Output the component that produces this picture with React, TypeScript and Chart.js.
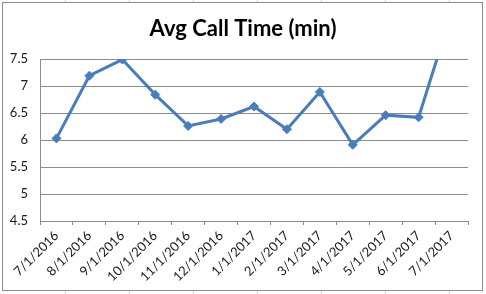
import React, { useEffect, useRef } from "react";
import { Chart, registerables } from "chart.js";

Chart.register(...registerables);

const categories: string[] = [
  "7/1/2016", "8/1/2016", "9/1/2016", "10/1/2016", "11/1/2016", "12/1/2016",
  "1/1/2017", "2/1/2017", "3/1/2017", "4/1/2017", "5/1/2017", "6/1/2017", "7/1/2017",
];
const avgCallTime: number[] = [6.03, 7.19, 7.49, 6.84, 6.26, 6.39, 6.62, 6.2, 6.89, 5.91, 6.46, 6.42, 8.36];
const yMin = 4.5;
const yMax = 7.5;
const yStep = 0.5;
const titleText = "Avg Call Time (min)";

const W = 486;
const H = 294;

const frame = {
  id: "frame",
  beforeDraw(chart: any) {
    const ctx = chart.ctx;
    ctx.save();
    ctx.fillStyle = "#ffffff";
    ctx.fillRect(0, 0, W, H);
    // spreadsheet cells peeking out around the chart object
    ctx.strokeStyle = "#d4d4d4";
    ctx.lineWidth = 1;
    for (let x = 65; x < W; x += 64) {
      ctx.beginPath();
      ctx.moveTo(x + 0.5, 0);
      ctx.lineTo(x + 0.5, H);
      ctx.stroke();
    }
    ctx.fillStyle = "#ffffff";
    ctx.fillRect(2, 2, 481, 289);
    ctx.strokeStyle = "#8c8c8c";
    ctx.strokeRect(2.5, 2.5, 480, 288);
    ctx.restore();
  },
};

export default function App() {
  const ref = useRef<HTMLCanvasElement | null>(null);
  useEffect(() => {
    document.body.style.margin = "0";
    if (!ref.current) return;
    const chart = new Chart(ref.current, {
      type: "line",
      data: {
        labels: categories,
        datasets: [
          {
            data: avgCallTime,
            borderColor: "#4A7EBB",
            backgroundColor: "#4A7EBB",
            borderWidth: 3,
            pointStyle: "rectRot",
            pointRadius: 4.5,
            pointBorderWidth: 1,
            pointBorderColor: "#4A7EBB",
            pointBackgroundColor: "#4A7EBB",
            tension: 0,
          },
        ],
      },
      options: {
        responsive: false,
        animation: false,
        devicePixelRatio: 1,
        layout: { padding: { left: 0, right: 0, top: 0, bottom: 0 } },
        plugins: {
          legend: { display: false },
          tooltip: { enabled: false },
          title: {
            display: true,
            text: titleText,
            color: "#000000",
            font: { family: "Lato", size: 22, weight: "bold", lineHeight: 1.2 },
            padding: { top: 16, bottom: 16.6 },
          },
        },
        scales: {
          x: {
            type: "category",
            offset: true,
            grid: {
              offset: true,
              drawOnChartArea: false,
              drawTicks: true,
              tickLength: 4,
              color: "#8c8c8c",
            },
            border: { display: true, color: "#8c8c8c", width: 1 },
            ticks: {
              autoSkip: false,
              minRotation: 45,
              maxRotation: 45,
              padding: 3,
              color: "#1a1a1a",
              font: { family: "Lato", size: 13 },
            },
            afterFit(scale: any) {
              scale.height = 73;
            },
          },
          y: {
            min: yMin,
            max: yMax,
            ticks: {
              stepSize: yStep,
              padding: 12,
              color: "#1a1a1a",
              font: { family: "Lato", size: 13 },
              callback: (v: any) => String(Number(v)),
            },
            grid: { color: "#8c8c8c", drawTicks: false },
            border: { display: true, color: "#8c8c8c", width: 1 },
            afterFit(scale: any) {
              scale.width = 40;
            },
          },
          yRightSpace: {
            type: "linear",
            position: "right",
            display: true,
            min: yMin,
            max: yMax,
            ticks: { display: false },
            grid: { display: false, drawOnChartArea: false, drawTicks: false },
            border: { display: false },
            afterFit(scale: any) {
              scale.width = 18;
            },
          },
        },
      },
      plugins: [frame],
    } as any);
    return () => chart.destroy();
  }, []);
  return (
    <div style={{ position: "absolute", left: 0, top: 0, width: W, height: H }}>
      <canvas ref={ref} width={W} height={H} style={{ display: "block", width: W, height: H }} />
    </div>
  );
}
